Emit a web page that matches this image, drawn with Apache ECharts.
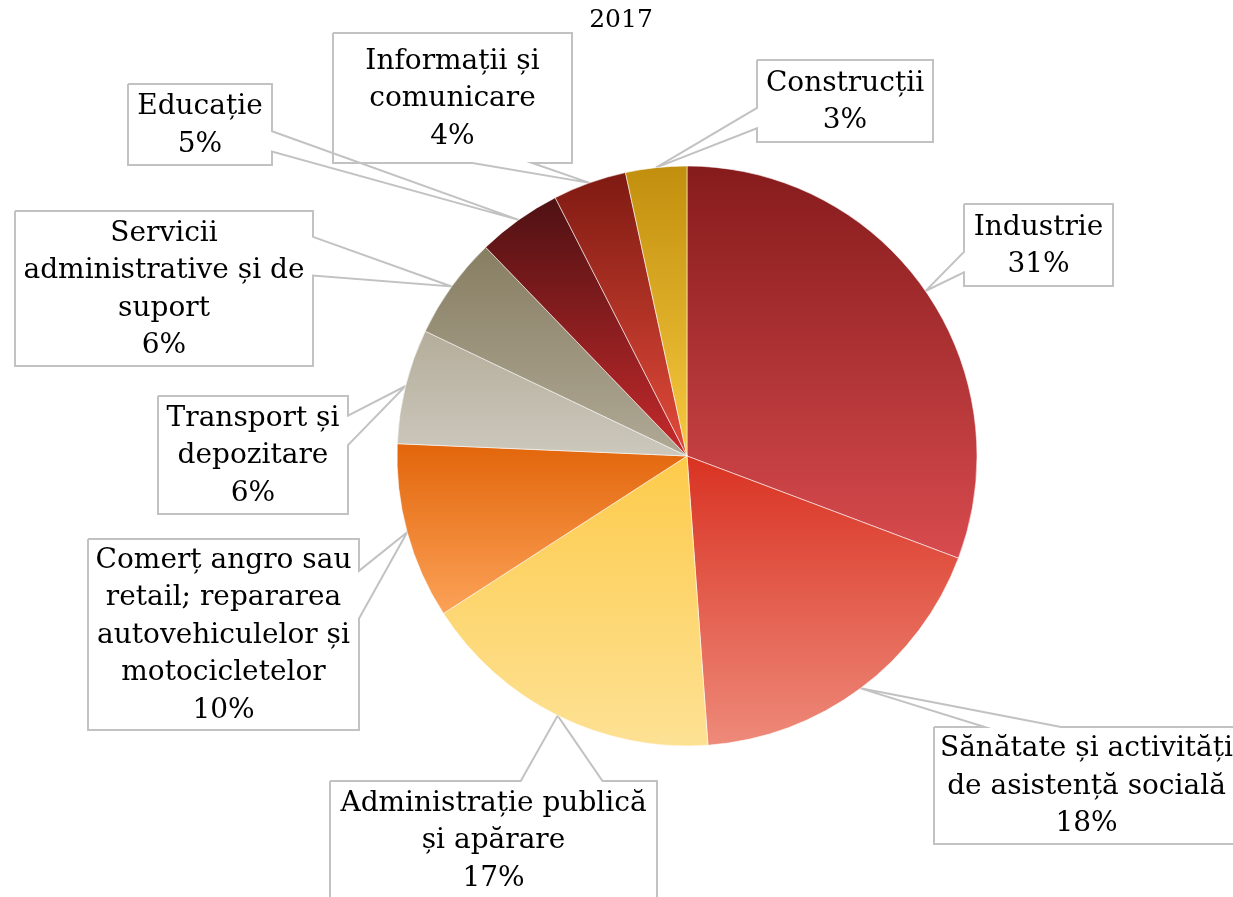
<!DOCTYPE html>
<html>
<head>
<meta charset="utf-8">
<script src="https://cdn.jsdelivr.net/npm/echarts@6/dist/echarts.min.js"></script>
<style>
html, body { margin: 0; padding: 0; background: #ffffff; }
#chart { width: 1233px; height: 897px; }
</style>
</head>
<body>
<div id="chart"></div>
<script>
// ---- data ----
const chartTitle = '2017';
const categories = [
  'Industrie',
  'Sănătate și activități\nde asistență socială',
  'Administrație publică\nși apărare',
  'Comerț angro sau\nretail; repararea\nautovehiculelor și\nmotocicletelor',
  'Transport și\ndepozitare',
  'Servicii\nadministrative și de\nsuport',
  'Educație',
  'Informații și\ncomunicare',
  'Construcții'
];
const shares = [30.7, 18.1, 17.0, 9.8, 6.4, 5.7, 4.7, 4.1, 3.4];

// ---- styles ----
const gradTop    = ['#861b1c', '#d93222', '#fdcb4b', '#e2650a', '#b4ad9b', '#877e62', '#4e1113', '#7e1a12', '#c18f0d'];
const gradBottom = ['#d84b4e', '#ee8a7a', '#fde194', '#fca258', '#ccc8bc', '#b0a996', '#c62a2c', '#e34b3a', '#f8c840'];

// callout boxes [left, top, width, height] (label layout)
const calloutBoxes = [
  [964, 204, 149, 82],
  [934, 727, 305, 117],
  [330, 781, 327, 118],
  [88, 539, 271, 191],
  [158, 396, 190, 118],
  [15, 211, 298, 155],
  [128, 84, 144, 81],
  [333, 33, 239, 130],
  [757, 60, 176, 82]
];

const FONT = 'DejaVu Serif';
const PIE_CENTER = [687, 456];
const PIE_R = 290;

function calloutOutline(box, tip) {
  const x0 = box[0], y0 = box[1], w = box[2], h = box[3];
  const x1 = x0 + w, y1 = y0 + h;
  const cx = x0 + w / 2, cy = y0 + h / 2;
  const dx = (tip[0] - cx) / w, dy = (tip[1] - cy) / h;
  let side;
  if (Math.abs(dx) > Math.abs(dy)) side = dx > 0 ? 'right' : 'left';
  else side = dy > 0 ? 'bottom' : 'top';
  const f = (side === 'top' || side === 'bottom')
    ? (dx > 0 ? [7 / 12, 10 / 12] : [2 / 12, 5 / 12])
    : (dy > 0 ? [7 / 12, 10 / 12] : [2 / 12, 5 / 12]);
  const pts = [[x0, y0]];
  if (side === 'top') pts.push([x0 + f[0] * w, y0], tip, [x0 + f[1] * w, y0]);
  pts.push([x1, y0]);
  if (side === 'right') pts.push([x1, y0 + f[0] * h], tip, [x1, y0 + f[1] * h]);
  pts.push([x1, y1]);
  if (side === 'bottom') pts.push([x0 + f[1] * w, y1], tip, [x0 + f[0] * w, y1]);
  pts.push([x0, y1]);
  if (side === 'left') pts.push([x0, y0 + f[1] * h], tip, [x0, y0 + f[0] * h]);
  pts.push([x0, y0]);
  return pts;
}

const chart = echarts.init(document.getElementById('chart'), null, { renderer: 'canvas' });

const seriesData = categories.map(function (name, i) {
  return {
    name: name,
    value: shares[i],
    itemStyle: {
      color: {
        type: 'linear', x: 0, y: 0, x2: 0, y2: 1,
        colorStops: [
          { offset: 0, color: gradTop[i] },
          { offset: 1, color: gradBottom[i] }
        ]
      }
    }
  };
});

chart.setOption({
  animation: false,
  backgroundColor: '#ffffff',
  title: {
    text: chartTitle,
    left: 621,
    top: 8,
    padding: 0,
    textAlign: 'center',
    textStyle: { fontFamily: FONT, fontSize: 25, fontWeight: 'normal', color: '#000000' }
  },
  series: [{
    type: 'pie',
    left: 0, top: 0, width: 3000, height: 3000,
    center: PIE_CENTER,
    radius: PIE_R,
    startAngle: 90,
    clockwise: true,
    avoidLabelOverlap: false,
    silent: true,
    itemStyle: { borderColor: 'rgba(255,255,255,0.7)', borderWidth: 0.8 },
    label: {
      show: true,
      position: 'outside',
      fontFamily: FONT,
      fontSize: 28,
      lineHeight: 37.5,
      color: '#000000',
      align: 'center',
      formatter: function (p) {
        return p.name + '\n' + Math.round(p.percent) + '%';
      }
    },
    labelLine: {
      show: true,
      length: 10,
      length2: 10,
      smooth: false,
      lineStyle: { color: '#c2c2c2', width: 2 }
    },
    labelLayout: function (params) {
      const i = params.dataIndex;
      const box = calloutBoxes[i];
      let tip;
      if (params.labelLinePoints && params.labelLinePoints.length) {
        tip = [params.labelLinePoints[0][0], params.labelLinePoints[0][1]];
      } else {
        let before = 0, total = 0;
        shares.forEach(function (v, k) { total += v; if (k < i) before += v; });
        const a = (before + shares[i] / 2) / total * Math.PI * 2;
        tip = [PIE_CENTER[0] + PIE_R * Math.sin(a), PIE_CENTER[1] - PIE_R * Math.cos(a)];
      }
      return {
        x: box[0] + box[2] / 2,
        y: box[1] + box[3] / 2 + 1,
        align: 'center',
        verticalAlign: 'middle',
        labelLinePoints: calloutOutline(box, tip)
      };
    },
    data: seriesData
  }]
});
</script>
</body>
</html>
